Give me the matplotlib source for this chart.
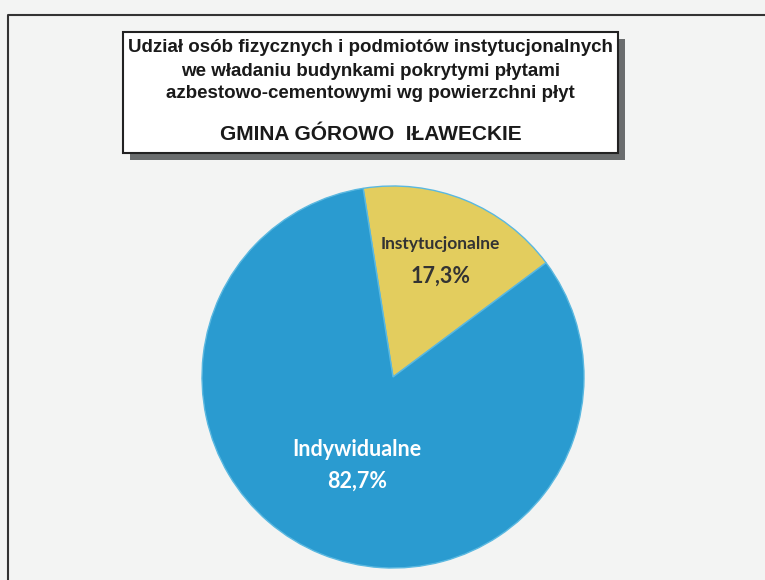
import numpy as np
import matplotlib.pyplot as plt
from matplotlib.patches import Rectangle

# data
categories = ["Instytucjonalne", "Indywidualne"]
shares = [17.3, 82.7]
share_labels = ["17,3%", "82,7%"]
title_lines = [
    "Udział osób fizycznych i podmiotów instytucjonalnych",
    "we władaniu budynkami pokrytymi płytami",
    "azbestowo-cementowymi wg powierzchni płyt",
]
subtitle = "GMINA GÓROWO  IŁAWECKIE"

W, H = 765, 580
fig = plt.figure(figsize=(W / 100, H / 100), dpi=100, facecolor="#f3f4f3")
ax = fig.add_axes([0, 0, 1, 1])
ax.set_facecolor("#f3f4f3")

# pie (pixel coords, y measured from bottom)
cx, cy, r = 393, H - 377, 191
wedges, _ = ax.pie(shares, colors=["#e3cd5e", "#2a9bd0"], startangle=99,
                   counterclock=False, center=(cx, cy), radius=r, frame=True,
                   wedgeprops=dict(edgecolor="#5ab8e0", linewidth=1.0))

label_dist = [0.66, 0.5]
label_color = ["#333333", "white"]
name_size = [12.5, 15.5]
for w, name, pct, d, c, s in zip(wedges, categories, share_labels, label_dist, label_color, name_size):
    ang = np.deg2rad((w.theta1 + w.theta2) / 2)
    lx, ly = cx + d * r * np.cos(ang), cy + d * r * np.sin(ang)
    ax.text(lx, ly + 16, name, ha="center", va="center", color=c, fontsize=s,
            fontweight="bold", family="Lato")
    ax.text(lx, ly - 16, pct, ha="center", va="center", color=c, fontsize=15.5,
            fontweight="bold", family="Lato")

ax.set_xlim(0, W)
ax.set_ylim(0, H)
ax.set_aspect("equal")
ax.axis("off")

# outer frame of the scanned page
ax.plot([8, 8, W + 5], [0, H - 15, H - 15], color="#333333", lw=1.5)

# title box with shadow
bx, by, bw, bh = 123, H - 153, 495, 121
ax.add_patch(Rectangle((bx + 7, by - 7), bw, bh, facecolor="#6a6d6e", edgecolor="none"))
ax.add_patch(Rectangle((bx, by), bw, bh, facecolor="white", edgecolor="#222222", lw=1.5))
for i, line in enumerate(title_lines):
    ax.text(bx + bw / 2, H - 48 - i * 23, line, ha="center", va="center",
            fontsize=13.5, fontweight="bold", family="Liberation Sans", color="#1a1a1a")
ax.text(bx + bw / 2, H - 135, subtitle, ha="center", va="center",
        fontsize=15, fontweight="bold", family="Liberation Sans", color="#1a1a1a")

fig.savefig("out.png", dpi=100, facecolor=fig.get_facecolor())
